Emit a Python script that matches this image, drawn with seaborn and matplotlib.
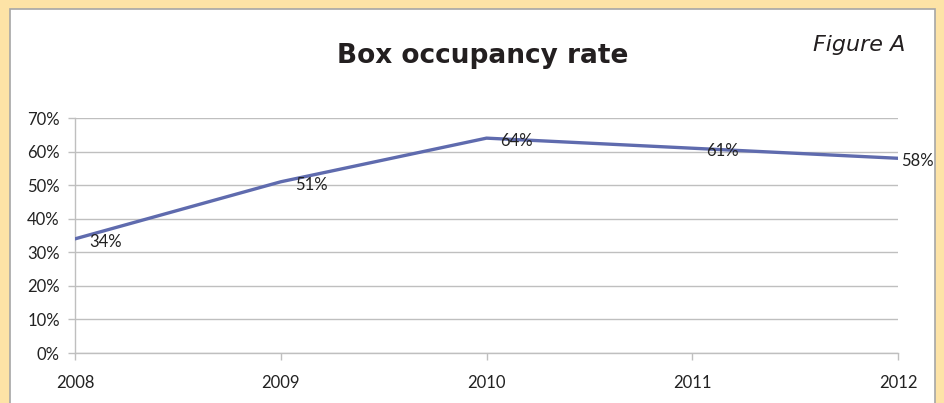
import pandas as pd
import matplotlib.pyplot as plt
from matplotlib.patches import Rectangle
import seaborn as sns

# Chart data
years = [2008, 2009, 2010, 2011, 2012]
occupancy = [34, 51, 64, 61, 58]
y_ticks = [0, 10, 20, 30, 40, 50, 60, 70]
y_tick_labels = ['0%', '10%', '20%', '30%', '40%', '50%', '60%', '70%']

df = pd.DataFrame({'year': years, 'rate': occupancy})

sns.set_style('white')
plt.rcParams['font.family'] = ['Lato', 'DejaVu Sans']

fig = plt.figure(figsize=(9.45, 4.03), dpi=100, facecolor='#FDE3A6')

# white panel with grey frame, kept behind the axes
panel = Rectangle((10 / 945, -0.05), 925 / 945, 1.05 - 9 / 403,
                  transform=fig.transFigure, facecolor='white',
                  edgecolor='#A6A6A6', linewidth=1.2, zorder=-10)
fig.patches.append(panel)

ax = fig.add_axes([75 / 945, 1 - 353 / 403, 823 / 945, 235 / 403])
ax.set_facecolor('none')

sns.lineplot(data=df, x='year', y='rate', ax=ax, color='#5F6BAE',
             linewidth=2.4, zorder=3)

ax.set_xlim(years[0], years[-1])
ax.set_ylim(0, 70)
ax.set_xticks(years)
ax.set_xticklabels([str(y) for y in years])
ax.set_yticks(y_ticks)
ax.set_yticklabels(y_tick_labels)
ax.set_xlabel('')
ax.set_ylabel('')

ax.grid(axis='y', color='#BFBFBF', linewidth=1.0)
ax.grid(axis='x', visible=False)
for side in ['top', 'right']:
    ax.spines[side].set_visible(False)
for side in ['left', 'bottom']:
    ax.spines[side].set_color('#BFBFBF')
    ax.spines[side].set_linewidth(1.0)

ax.tick_params(axis='both', which='both', length=5, width=1.0,
               color='#BFBFBF', labelsize=12, labelcolor='#222222',
               left=True, bottom=True)
ax.tick_params(axis='y', pad=6)
ax.tick_params(axis='x', pad=11)

# data labels (last one pulled in so it stays inside the panel)
for x, v in zip(years, occupancy):
    dx = 10 if x != years[-1] else 2
    ax.annotate(f'{v}%', xy=(x, v), xytext=(dx, -2), textcoords='offset points',
                ha='left', va='center', fontsize=12, color='#222222', zorder=4,
                annotation_clip=False)

fig.text(483 / 945, 1 - 56 / 403, 'Box occupancy rate', ha='center', va='center',
         fontsize=19, fontweight='bold', color='#231F20', family='DejaVu Sans')
fig.text(905 / 945, 1 - 45 / 403, 'Figure A', ha='right', va='center',
         fontsize=16, style='italic', color='#231F20', family='DejaVu Sans')

fig.savefig('out.png', dpi=100, facecolor=fig.get_facecolor())
